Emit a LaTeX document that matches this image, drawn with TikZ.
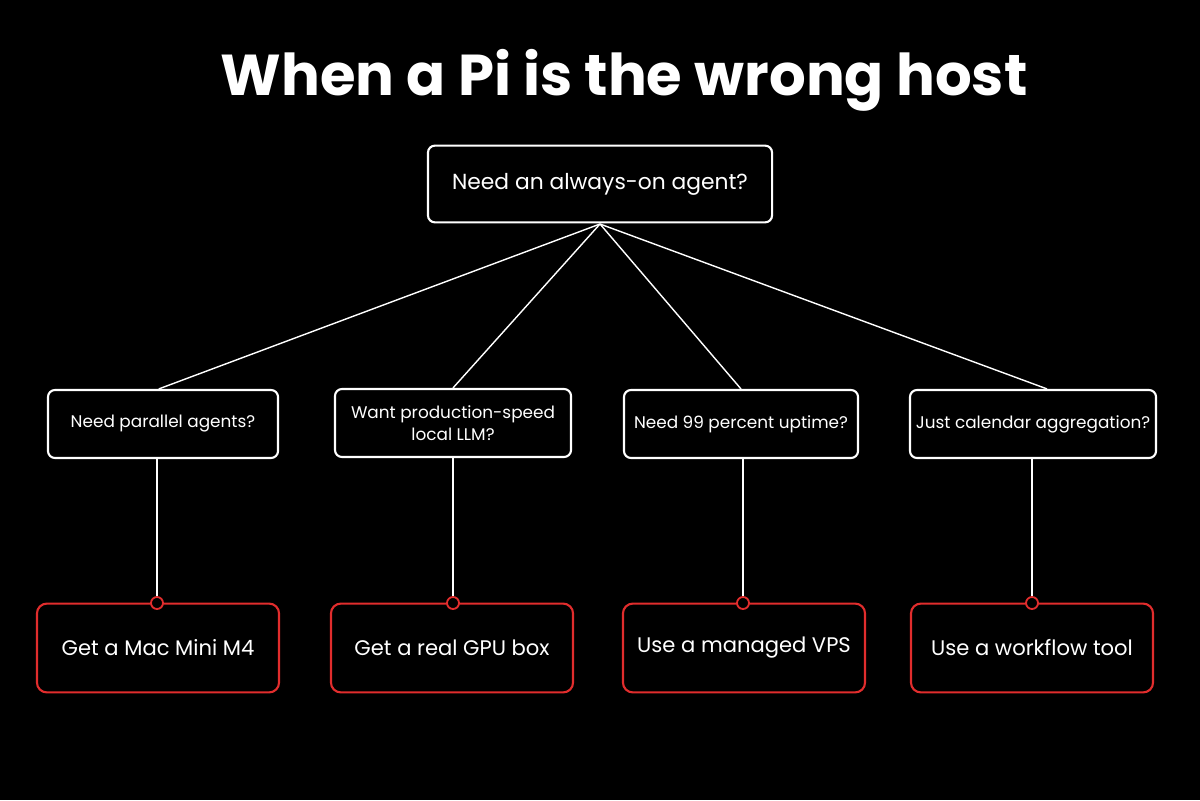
\documentclass[tikz,border=0pt]{standalone}
\usepackage{fontspec}
\setmainfont{Poppins}
\definecolor{rd}{RGB}{225,45,45}
\begin{document}
\begin{tikzpicture}[x=0.025cm,y=-0.025cm,
  q/.style={draw=white,line width=1.5pt,rounded corners=5pt,text=white,align=center},
  r/.style={draw=rd,line width=1.5pt,rounded corners=7pt,text=white,minimum width=6.05cm,minimum height=2.22cm,font=\fontsize{15}{18}\selectfont},
  ln/.style={draw=white,line width=1pt},
  dot/.style={circle,draw=rd,fill=black,line width=1.3pt,inner sep=0pt,minimum size=0.3cm}]
\fill[black] (0,0) rectangle (1200,800);
\node[text=white,font=\fontsize{41}{48}\bfseries\selectfont] (t) at (624,80) {When a Pi is the wrong host};
\node[q,minimum width=8.6cm,minimum height=1.92cm,font=\fontsize{15.5}{19}\selectfont] (top) at (600,184) {Need an always-on agent?};
\begin{scope}[every node/.append style={q,minimum height=1.7cm,font=\fontsize{12}{16}\selectfont}]
\node[minimum width=5.75cm] (a) at (163,424) {Need parallel agents?};
\node[minimum width=5.9cm] (b) at (453,423) {Want production-speed\\local LLM?};
\node[minimum width=5.85cm] (c) at (741,424) {Need 99 percent uptime?};
\node[minimum width=6.15cm] (d) at (1033,424) {Just calendar aggregation?};
\end{scope}
\node[r] (ra) at (158,648) {Get a Mac Mini M4};
\node[r] (rb) at (452,648) {Get a real GPU box};
\node[r] (rc) at (744,648) {Use a managed VPS};
\node[r] (rd) at (1032,648) {Use a workflow tool};
\coordinate (o) at (600,224);
\draw[ln] (o) -- ([xshift=-3]a.north);
\draw[ln] (o) -- (b.north);
\draw[ln] (o) -- (c.north);
\draw[ln] (o) -- ([xshift=10]d.north);
\foreach \x in {157,453,743,1032}{
  \draw[ln] (\x,458) -- (\x,603);
  \node[dot] at (\x,603) {};
}
\end{tikzpicture}
\end{document}
